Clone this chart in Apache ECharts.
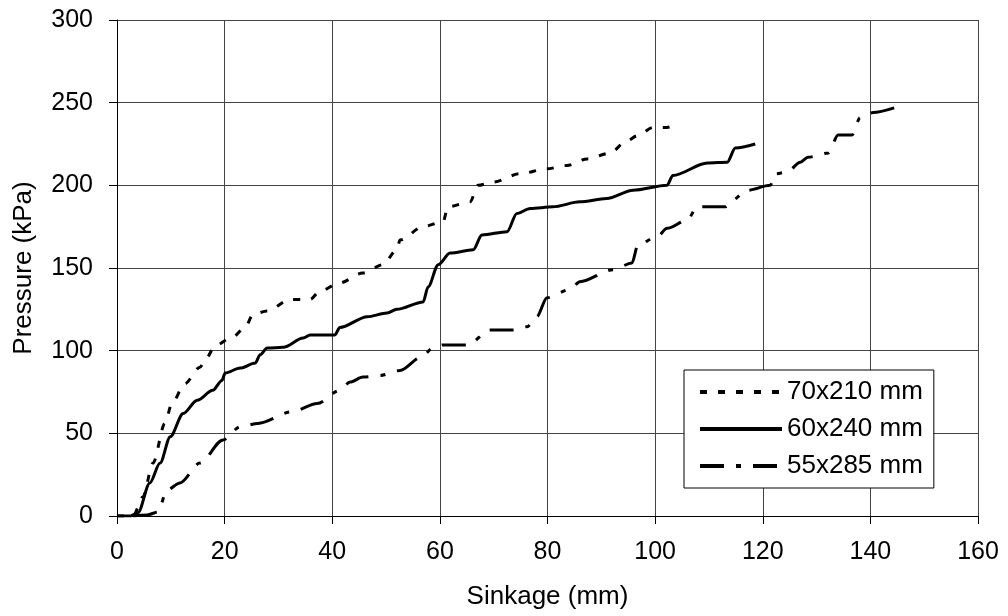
<!DOCTYPE html>
<html>
<head>
<meta charset="utf-8">
<script src="https://cdn.jsdelivr.net/npm/echarts@6/dist/echarts.min.js"></script>
<style>
  html, body { margin: 0; padding: 0; background: #fff; }
  #main { width: 1008px; height: 616px; }
</style>
</head>
<body>
<div id="main"></div>
<script>
// sinkage (mm), pressure (kPa)
var s70x210 = [[0, 0], [3, 0], [4.8, 11.5], [6.7, 32], [8.9, 56], [10.2, 68], [12.6, 80], [15.4, 90],
  [16.7, 96], [18.2, 103], [21.4, 108], [23.8, 114], [25.3, 122], [27.9, 124], [32.2, 131], [35.9, 131],
  [37.7, 136], [41.4, 141], [45.7, 147], [49.4, 152], [52, 161], [52.6, 167], [56.9, 175], [60.6, 178],
  [61.5, 187], [65.6, 190], [67.1, 200], [69.9, 202], [74.9, 207], [79.9, 210], [83.6, 212], [87.4, 216],
  [91.6, 219.5], [94.8, 227], [96.7, 230], [99.6, 235], [102.2, 235], [104.6, 238]];

var s60x240 = [[0, 0], [2.5, 0], [3.9, 2], [6.1, 20], [8, 32], [9.9, 48], [12.3, 62], [14.9, 70],
  [17.8, 76], [19.5, 82], [20.1, 86.5], [22.9, 89.5], [25.7, 92.5], [26.6, 97.5], [27.9, 101.6], [30.9, 102],
  [34.6, 107.6], [35.9, 109.5], [40.5, 109.5], [41.4, 114], [46.5, 120.5], [50.2, 122.8], [52, 125],
  [56.9, 129.5], [57.8, 138.5], [59.7, 152], [61.9, 159], [66.2, 161], [67.8, 170], [72.5, 172],
  [74.3, 183], [76.8, 186], [81, 187], [86, 190], [91, 192], [95.9, 197], [102.2, 200], [103.3, 206],
  [109.7, 213.5], [113.4, 214], [114.9, 222.6], [118.6, 225]];

var s55x285 = [[3, 0], [5.6, 0.6], [7.6, 2.4], [9.3, 15.7], [11.7, 20], [15.4, 32], [19.7, 46], [22.9, 54],
  [26.2, 56], [32.5, 63], [37.2, 68], [41.4, 76], [43.3, 81], [45.7, 84], [48.9, 85], [52.6, 88],
  [56.5, 96], [58.7, 101.6], [60.6, 103.5], [65.2, 103.5], [69.3, 112.5], [73.6, 112.5], [76.2, 114.5],
  [78, 120.5], [79.9, 132], [84.2, 137], [86, 141.7], [92.2, 149], [95.7, 153], [96.8, 164], [100.4, 169],
  [102.2, 174], [106, 179], [107.8, 187], [113, 187], [114.3, 191], [117.1, 197], [121.4, 200],
  [122.3, 207], [124.5, 208], [127, 214], [128.4, 217], [132.2, 219.6], [134, 230.5], [136.6, 230.5],
  [138.1, 241], [140.5, 244], [144.6, 247]];

var seriesNames = ['70x210 mm', '60x240 mm', '55x285 mm'];
var font = 'Liberation Sans, Arial, sans-serif';

var chart = echarts.init(document.getElementById('main'));

function lineSeries(name, data, dash) {
  return {
    name: name,
    type: 'line',
    data: data,
    symbol: 'none',
    smooth: 0.3,
    smoothMonotone: 'x',
    lineStyle: { color: '#000', width: 3, type: dash },
    itemStyle: { color: '#000' }
  };
}

chart.setOption({
  animation: false,
  backgroundColor: '#fff',
  grid: { left: 117, right: 30, top: 20, bottom: 100 },
  legend: {
    orient: 'vertical',
    left: 684,
    top: 370,
    padding: [7, 11, 7, 14],
    itemWidth: 82,
    itemHeight: 14,
    itemGap: 7,
    backgroundColor: '#fff',
    borderColor: '#000',
    borderWidth: 1,
    borderRadius: 0,
    itemStyle: { opacity: 0 },
    lineStyle: { width: 4 },
    textStyle: { fontFamily: font, fontSize: 26, color: '#000', lineHeight: 30 },
    data: seriesNames
  },
  xAxis: {
    type: 'value',
    min: 0, max: 160, interval: 20,
    name: 'Sinkage (mm)',
    nameLocation: 'middle',
    nameGap: 68,
    nameTextStyle: { fontFamily: font, fontSize: 26, color: '#000' },
    axisLine: { show: true, onZero: false, lineStyle: { color: '#000', width: 1 } },
    axisTick: { show: true, length: 8, inside: false, lineStyle: { color: '#000' } },
    axisLabel: { fontFamily: font, fontSize: 25, color: '#000', margin: 24 },
    splitLine: { show: true, lineStyle: { color: '#444', width: 1 } }
  },
  yAxis: {
    type: 'value',
    min: 0, max: 300, interval: 50,
    name: 'Pressure (kPa)',
    nameLocation: 'middle',
    nameGap: 80,
    nameTextStyle: { fontFamily: font, fontSize: 26, color: '#000' },
    axisLine: { show: true, onZero: false, lineStyle: { color: '#000', width: 1 } },
    axisTick: { show: true, length: 8, inside: false, lineStyle: { color: '#000' } },
    axisLabel: { fontFamily: font, fontSize: 25, color: '#000', margin: 24 },
    splitLine: { show: true, lineStyle: { color: '#444', width: 1 } }
  },
  series: [
    lineSeries(seriesNames[0], s70x210, [7, 11]),
    lineSeries(seriesNames[1], s60x240, 'solid'),
    lineSeries(seriesNames[2], s55x285, [24, 12, 5, 12])
  ]
});
</script>
</body>
</html>
